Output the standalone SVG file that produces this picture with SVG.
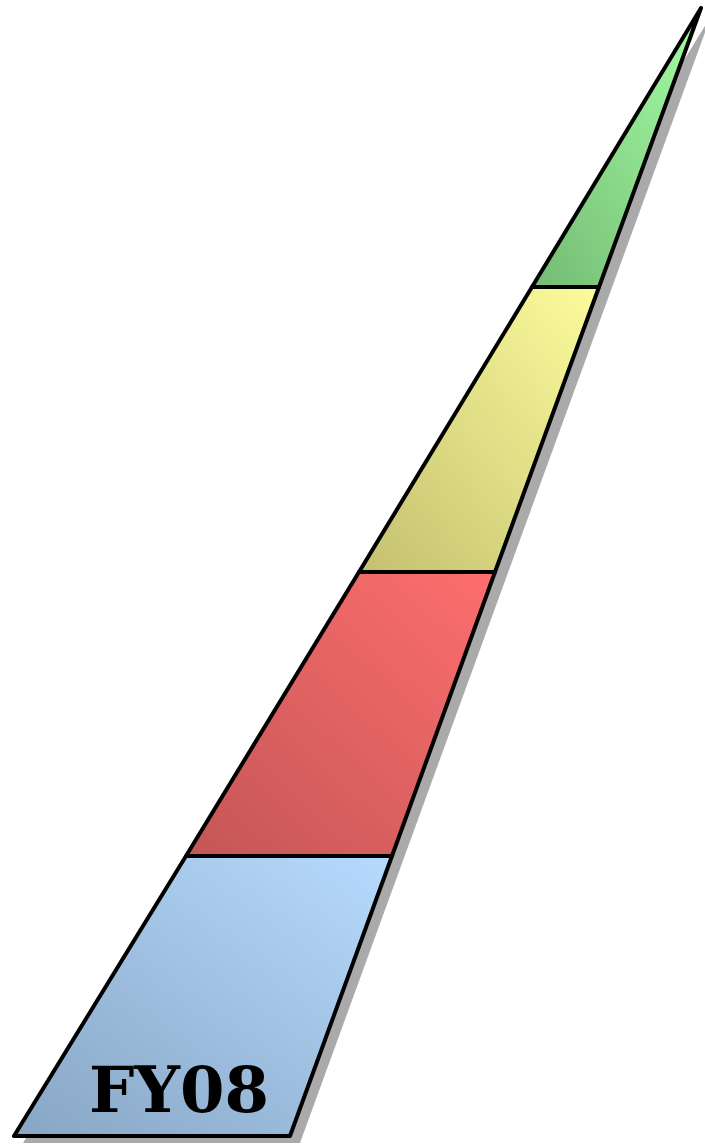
<svg xmlns="http://www.w3.org/2000/svg" width="705" height="1144" viewBox="0 0 705 1144">
<defs>
<linearGradient id="gG" x1="1" y1="0" x2="0" y2="1"><stop offset="0" stop-color="#a4fca4"/><stop offset="1" stop-color="#74bc74"/></linearGradient>
<linearGradient id="gY" x1="1" y1="0" x2="0" y2="1"><stop offset="0" stop-color="#fcfc9c"/><stop offset="1" stop-color="#c4c070"/></linearGradient>
<linearGradient id="gR" x1="1" y1="0" x2="0" y2="1"><stop offset="0" stop-color="#fe6e6e"/><stop offset="1" stop-color="#c45656"/></linearGradient>
<linearGradient id="gB" x1="1" y1="0" x2="0" y2="1"><stop offset="0" stop-color="#b6dafe"/><stop offset="1" stop-color="#88a6c4"/></linearGradient>
<filter id="blur" x="-5%" y="-5%" width="110%" height="110%"><feGaussianBlur stdDeviation="0.6"/></filter>
</defs>
<style>
.band{stroke:#000;stroke-width:4;stroke-linejoin:round}
.lbl{font-family:"DejaVu Serif",serif;font-weight:bold;font-size:64px;fill:#000;text-anchor:middle}
</style>
<g id="shadow"><polygon points="23,1143 300,1143 711,16" fill="#aaaaaa" filter="url(#blur)"/></g>
<g id="green"><polygon class="band" points="532,287 599,287 701,8" fill="url(#gG)"/></g>
<g id="yellow"><polygon class="band" points="359,572 495,572 599,287 532,287" fill="url(#gY)"/></g>
<g id="red"><polygon class="band" points="186,856 392,856 495,572 359,572" fill="url(#gR)"/></g>
<g id="blue"><polygon class="band" points="14,1136 290,1136 392,856 186,856" fill="url(#gB)"/><text class="lbl" x="179" y="1112">FY08</text></g>
<g id="connectors"/>
</svg>
